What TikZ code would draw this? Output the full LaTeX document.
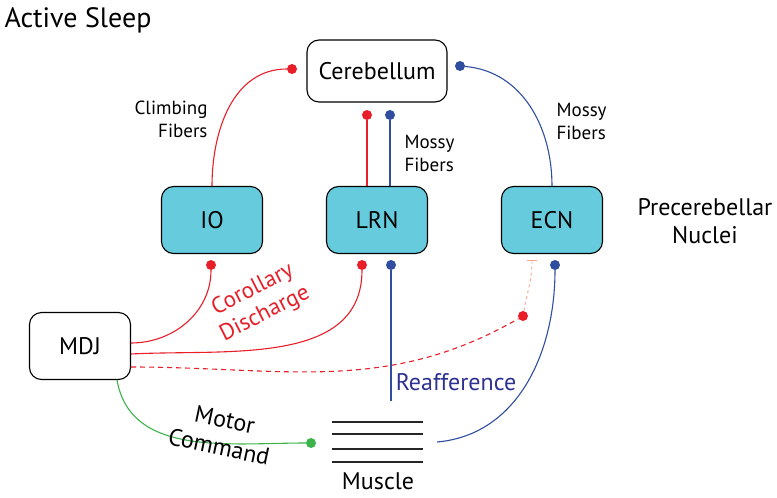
\documentclass[tikz,border=0pt]{standalone}
\usepackage{fontspec}
\setmainfont{PT Sans}
\usetikzlibrary{arrows.meta, positioning, calc}
\definecolor{nucleuscolor}{RGB}{102,204,221}
\definecolor{redfiber}{RGB}{232,30,40}
\definecolor{bluefiber}{RGB}{48,78,160}
\definecolor{greenfiber}{RGB}{60,180,75}
\definecolor{reafcolor}{RGB}{46,49,146}
\definecolor{inhibcolor}{RGB}{244,170,140}

\begin{document}
\begin{tikzpicture}[
    x=1pt, y=1pt,
    box/.style={draw, line width=1.1pt, rounded corners=12pt, minimum width=101pt, minimum height=67pt, align=center, font=\fontsize{24}{28}\selectfont},
    nucleus/.style={box, fill=nucleuscolor},
    dot/.style={circle, fill=#1, inner sep=0pt, minimum size=10pt},
    fiber/.style={line width=1.1pt, draw=#1},
    txt/.style={align=center, font=\fontsize{24}{28}\selectfont},
    smalltxt/.style={font=\fontsize{19}{23}\selectfont}
]
    \useasboundingbox (0,0) rectangle (777,-498);

    % title
    \node[txt, font=\fontsize{28}{32}\selectfont] (title) at (78,-20) {Active Sleep};

    % cerebellum and precerebellar nuclei
    \node[box, minimum width=140pt, minimum height=62pt] (cereb) at (377,-71) {Cerebellum};
    \node[nucleus] (io) at (212,-220) {IO};
    \node[nucleus] (lrn) at (377,-220) {LRN};
    \node[nucleus] (ecn) at (552,-220) {ECN};
    \node[box, fill=white] (mdj) at (80,-346) {MDJ};
    \node[txt] (precereb) at (705,-221) {Precerebellar\\Nuclei};

    % muscle
    \foreach \y in {422,434,449,462}
        \draw[line width=1.2pt, black!85] (332,-\y) -- (423,-\y);
    \node[txt] (muscle) at (378,-481) {Muscle};
    \coordinate (musclein) at (437,-442);

    % terminals
    \node[dot=redfiber] (cfdot) at (292,-69) {};
    \node[dot=bluefiber] (ecnup) at (460,-66) {};
    \node[dot=redfiber] (lrnupr) at (367,-115) {};
    \node[dot=bluefiber] (lrnupb) at (390,-115) {};
    \node[dot=redfiber] (iodown) at (211,-265) {};
    \node[dot=redfiber] (lrndownr) at (362,-265) {};
    \node[dot=bluefiber] (lrndownb) at (391,-265) {};
    \node[dot=bluefiber] (ecndown) at (555,-265) {};
    \node[dot=redfiber] (ecnefc) at (523,-316) {};
    \node[dot=greenfiber] (motdot) at (311,-443) {};
    \coordinate (tbar) at (532,-260);
    \coordinate (reafend) at (391,-401);

    % fibers to cerebellum
    \draw[fiber=redfiber] (io.north) to[out=90, in=180] (cfdot);
    \draw[fiber=redfiber] (lrnupr) -- (lrnupr |- lrn.north);
    \draw[fiber=bluefiber] (lrnupb) -- (lrnupb |- lrn.north);
    \draw[fiber=bluefiber] (ecnup) to[out=-5, in=90] (ecn.north);
    \node[smalltxt, align=right, anchor=east] (cflabel) at (211,-119) {Climbing\\Fibers};
    \node[smalltxt, align=left, anchor=west] (mflrn) at (401,-153) {Mossy\\Fibers};
    \node[smalltxt, align=left, anchor=west] (mfecn) at (553,-121) {Mossy\\Fibers};

    % corollary discharge
    \draw[fiber=redfiber] ($(mdj.east)+(0,3)$) to[out=0, in=-90] (iodown);
    \draw[fiber=redfiber] ($(mdj.east)+(0,-8)$) to[out=3, in=-90] (lrndownr);
    \draw[fiber=redfiber, dashed, dash pattern=on 5pt off 4pt] ($(mdj.east)+(0,-21)$) to[out=0, in=-150] (ecnefc);
    \draw[line width=0.9pt, inhibcolor, dash pattern=on 3pt off 3pt, -{Bar[width=10pt, line width=0.9pt]}] (ecnefc) to[out=80, in=-90] (tbar);
    \node[txt, text=redfiber, rotate=27, font=\fontsize{23}{27}\selectfont] (cdlabel) at (259,-302) {Corollary\\Discharge};

    % reafference
    \draw[fiber=bluefiber] (lrndownb) -- (reafend);
    \draw[fiber=bluefiber] (ecndown) to[out=-90, in=5] (musclein);
    \node[txt, text=reafcolor] (reaflabel) at (456,-382) {Reafference};

    % motor command
    \draw[fiber=greenfiber] ($(mdj.south)+(37,0)$) to[out=-80, in=180] (motdot);
    \node[txt, rotate=-12] (mclabel) at (222,-433) {Motor\\Command};
\end{tikzpicture}
\end{document}
